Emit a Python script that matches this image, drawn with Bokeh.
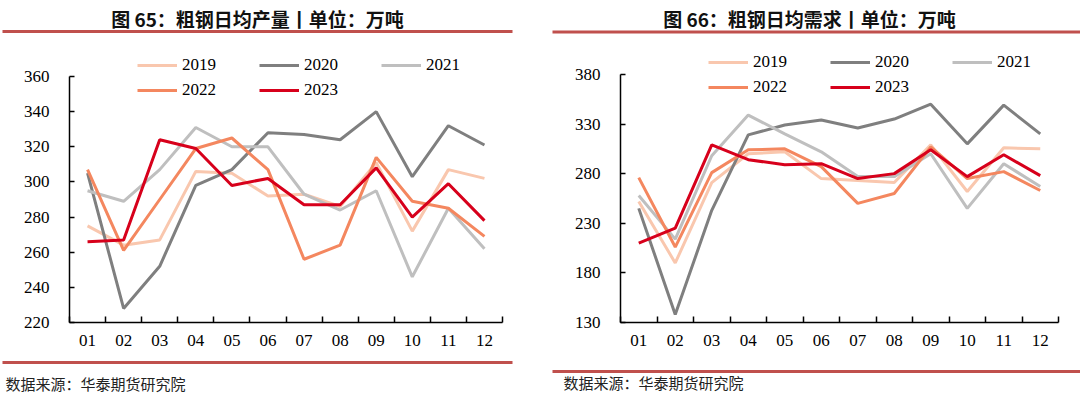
from bokeh.plotting import figure
from bokeh.models import (Range1d, FixedTicker, Label, BoxAnnotation, Legend, LegendItem)
from bokeh.layouts import row, column
from bokeh.embed import file_html
from bokeh.resources import INLINE

months = ["01", "02", "03", "04", "05", "06", "07", "08", "09", "10", "11", "12"]
years = ["2019", "2020", "2021", "2022", "2023"]

# 图65 粗钢日均产量 (万吨)
prod_ticks = [220, 240, 260, 280, 300, 320, 340, 360]
prod_2019 = [275, 264, 267, 306, 305, 292, 293, 286, 311, 272, 307, 302]
prod_2020 = [305, 228, 252, 298, 307, 328, 327, 324, 340, 303, 332, 321]
prod_2021 = [295, 289, 307, 331, 320, 320, 293, 284, 295, 246, 285, 262]
prod_2022 = [307, 261, 290, 319, 325, 307, 256, 264, 314, 289, 285, 269]
prod_2023 = [266, 267, 324, 319, 298, 302, 287, 287, 308, 280, 299, 278]

# 图66 粗钢日均需求 (万吨)
dem_ticks = [130, 180, 230, 280, 330, 380]
dem_2019 = [252, 190, 271, 300, 302, 275, 273, 271, 309, 262, 306, 305]
dem_2020 = [245, 138, 243, 319, 329, 334, 326, 335, 350, 310, 349, 320]
dem_2021 = [258, 214, 298, 339, 320, 302, 277, 277, 300, 245, 290, 267]
dem_2022 = [276, 206, 281, 304, 305, 287, 250, 260, 307, 275, 282, 263]
dem_2023 = [210, 225, 309, 294, 289, 290, 275, 280, 304, 277, 299, 278]

titles = ["图 65：粗钢日均产量丨单位：万吨", "图 66：粗钢日均需求丨单位：万吨"]
source_text = "数据来源：华泰期货研究院"

colors = ["#F9C7AE", "#7F7F7F", "#BFBFBF", "#F4875F", "#D7001B"]
RED_LINE = "#C0504D"
SERIF = "Liberation Serif"
CJK = "Noto Sans CJK SC"

HEAD_H = 40
MAIN_H = 320
FOOT_H = 35
W = 1080


def strip(height):
    f = figure(width=W, height=height, output_backend="svg", toolbar_location=None,
               x_axis_type=None, y_axis_type=None,
               x_range=Range1d(0, 1), y_range=Range1d(0, 1),
               min_border=0, min_border_left=0, min_border_right=0,
               min_border_top=0, min_border_bottom=0)
    f.outline_line_color = None
    f.xgrid.visible = False
    f.ygrid.visible = False
    f.border_fill_color = "white"
    f.background_fill_color = "white"
    return f


def rule(f, height, x0, x1, y, thick=3):
    f.add_layout(BoxAnnotation(left=x0, right=x1,
                               top=height - (y - thick / 2), bottom=height - (y + thick / 2),
                               left_units="screen", right_units="screen",
                               top_units="screen", bottom_units="screen",
                               fill_color=RED_LINE, fill_alpha=1, line_color=None))


# header: titles + red rules
head = strip(HEAD_H)
for t, cx in zip(titles, [257, 809]):
    head.add_layout(Label(x=cx, y=HEAD_H - 18, x_units="screen", y_units="screen",
                          text=t, text_align="center", text_baseline="middle",
                          text_font=CJK, text_font_size="19px", text_font_style="bold",
                          text_color="#111111"))
rule(head, HEAD_H, 2, 512, 31)
rule(head, HEAD_H, 552, 1080, 31.5)

# footer: red rules + source
FOOT_TOP = HEAD_H + MAIN_H
foot = strip(FOOT_H)
rule(foot, FOOT_H, 2, 512, 362 - FOOT_TOP)
rule(foot, FOOT_H, 552, 1080, 371 - FOOT_TOP)
for sx, sy in ((5, 383), (563, 382)):
    foot.add_layout(Label(x=sx, y=FOOT_H - (sy - FOOT_TOP), x_units="screen", y_units="screen",
                          text=source_text, text_align="left", text_baseline="middle",
                          text_font=CJK, text_font_size="15px", text_color="#222222"))


def make_panel(series, ticks, page_left, page_width, frame_l, frame_r,
               axis_top_px, frame_b, legend_x, leg_y1, leg_y2, ylab_standoff):
    y_lo, y_hi = ticks[0], ticks[-1]
    frame_top_px = HEAD_H
    per_px = (y_hi - y_lo) / (frame_b - axis_top_px)
    y_end = y_hi + (axis_top_px - frame_top_px) * per_px
    p = figure(width=page_width, height=MAIN_H, output_backend="svg",
               toolbar_location=None,
               x_range=Range1d(0, len(months)), y_range=Range1d(y_lo, y_end),
               min_border_left=frame_l - page_left,
               min_border_right=page_left + page_width - frame_r,
               min_border_top=0,
               min_border_bottom=HEAD_H + MAIN_H - frame_b)
    p.outline_line_color = None
    p.xgrid.visible = False
    p.ygrid.visible = False
    p.background_fill_color = "white"
    p.border_fill_color = "white"

    xs = [i + 0.5 for i in range(len(months))]
    renderers = []
    for yr, vals, c in zip(years, series, colors):
        renderers.append(p.line(xs, vals, line_color=c, line_width=3))

    xa = p.xaxis[0]
    xa.ticker = FixedTicker(ticks=xs, minor_ticks=list(range(len(months) + 1)))
    xa.major_label_overrides = {x: m for x, m in zip(xs, months)}
    xa.major_tick_in = 0
    xa.major_tick_out = 0
    xa.minor_tick_in = 6
    xa.minor_tick_out = 0
    xa.minor_tick_line_color = "black"
    xa.minor_tick_line_width = 1.5
    xa.axis_line_color = "black"
    xa.axis_line_width = 1.5
    xa.major_label_text_font = SERIF
    xa.major_label_text_font_size = "17px"
    xa.major_label_text_color = "black"
    xa.major_label_standoff = 12

    ya = p.yaxis[0]
    ya.ticker = FixedTicker(ticks=ticks, minor_ticks=[])
    ya.bounds = (y_lo, y_hi)
    ya.major_tick_in = 5
    ya.major_tick_out = 0
    ya.minor_tick_in = 0
    ya.minor_tick_out = 0
    ya.major_tick_line_color = "black"
    ya.major_tick_line_width = 1.5
    ya.axis_line_color = "black"
    ya.axis_line_width = 1.5
    ya.major_label_text_font = SERIF
    ya.major_label_text_font_size = "17px"
    ya.major_label_text_color = "black"
    ya.major_label_standoff = ylab_standoff

    for items, ly in ((list(zip(years[:3], renderers[:3])), leg_y1),
                      (list(zip(years[3:], renderers[3:])), leg_y2)):
        lg = Legend(items=[LegendItem(label=t, renderers=[r]) for t, r in items],
                    orientation="horizontal",
                    location=(legend_x - frame_l, frame_b - (ly + 10)),
                    glyph_width=40, glyph_height=20, label_height=20,
                    label_standoff=5, spacing=43, padding=0, margin=0,
                    border_line_color=None, background_fill_alpha=0,
                    label_text_font=SERIF, label_text_font_size="17px",
                    label_text_color="black")
        p.add_layout(lg, "center")
    return p


p1 = make_panel([prod_2019, prod_2020, prod_2021, prod_2022, prod_2023], prod_ticks,
                page_left=0, page_width=545, frame_l=69, frame_r=502,
                axis_top_px=76, frame_b=322, legend_x=137, leg_y1=65, leg_y2=90,
                ylab_standoff=20)
p2 = make_panel([dem_2019, dem_2020, dem_2021, dem_2022, dem_2023], dem_ticks,
                page_left=545, page_width=535, frame_l=620, frame_r=1058,
                axis_top_px=74, frame_b=323, legend_x=708, leg_y1=63, leg_y2=88,
                ylab_standoff=20)

layout = column(head, row(p1, p2, spacing=0), foot, spacing=0)
open("out.html", "w").write(file_html(layout, INLINE))
